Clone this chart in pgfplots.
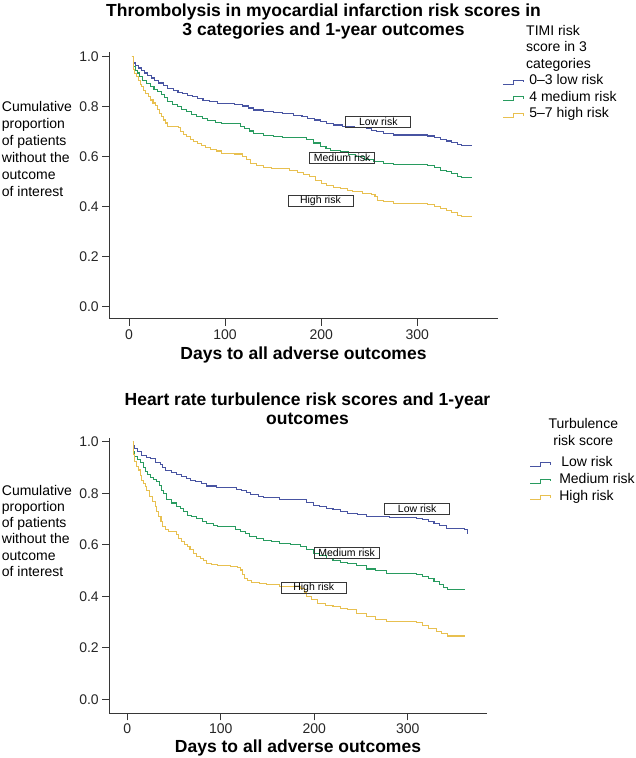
\documentclass[border=0pt]{standalone}
\usepackage{pgfplots}
\pgfplotsset{compat=1.18}
\usepackage{fontspec}
\setmainfont{Liberation Sans}
\definecolor{cblue}{RGB}{72,84,162}
\definecolor{cgreen}{RGB}{40,155,95}
\definecolor{cyellow}{RGB}{232,192,80}
\definecolor{axgray}{RGB}{55,55,55}
\tikzset{lbox/.style={draw=axgray, line width=0.8pt, minimum width=65pt, minimum height=11pt, inner sep=0pt, font=\fontsize{10.5}{11}\selectfont}}
\pgfplotsset{
  kmstyle/.style={
    scale only axis,
    clip=false,
    axis lines=left,
    axis line style={-, axgray, line width=0.9pt},
    tick style={axgray, line width=0.9pt},
    tick align=outside,
    major tick length=7pt,
    xtick={0,100,200,300},
    ytick={0,0.2,0.4,0.6,0.8,1.0},
    /pgf/number format/assume math mode=true,
    ticklabel style={font=\fontsize{14}{16}\selectfont, text=black!85},
    yticklabel style={/pgf/number format/.cd, fixed, fixed zerofill, precision=1},
    xticklabel style={/pgf/number format/.cd, fixed, precision=0},
    legend cell align=left,
    legend style={anchor=north west, draw=none, fill=none, inner sep=0pt, outer sep=0pt,
      row sep=0pt, font=\fontsize{14}{16}\selectfont,
      nodes={inner sep=0pt, text height=11pt, text depth=5.7pt}},
    legend image code/.code={\draw[##1, line width=1pt] (0pt,-2.5pt) -- (10pt,-2.5pt) -- (10pt,1.5pt) -- (20pt,1.5pt) -- (20pt,-0.5pt);},
  },
  km/.style={const plot, line width=1.05pt, mark=none},
}
\begin{document}
\begin{tikzpicture}
\path[use as bounding box] (0pt,0pt) rectangle (635pt,-758pt);
% ---------------- top panel ----------------
\begin{axis}[kmstyle, at={(109.3pt,-318.8pt)}, anchor=south west,
  width=389pt, height=266.8pt,
  xmin=-20.5, xmax=384.3, ymin=-0.048, ymax=1.019,
  legend style={at={(axis description cs:1.0113,0.920)}, column sep=5.7pt}]
\addplot[km, cblue] coordinates {
(3,1.0)(5,0.975)(7,0.965)(10,0.955)(13,0.945)(16,0.935)(19,0.925)(23,0.915)(27,0.905)(31,0.895)(36,0.885)(40,0.873)(46,0.866)(51,0.858)(56,0.852)(61,0.845)(66,0.84)(71,0.833)(77,0.826)(84,0.82)(92,0.814)(100,0.812)(110,0.81)(118,0.803)(124,0.795)(130,0.787)(140,0.782)(150,0.777)(160,0.772)(171,0.766)(180,0.76)(186,0.753)(193,0.747)(199,0.74)(206,0.734)(213,0.727)(222,0.72)(235,0.716)(247,0.712)(252,0.706)(258,0.70)(265,0.694)(275,0.687)(311,0.683)(318,0.677)(324,0.67)(330,0.663)(336,0.657)(342,0.648)(346,0.644)(357,0.644)};
\addlegendentry{0--3 low risk}
\addplot[km, cgreen] coordinates {
(3,1.0)(5,0.96)(7,0.945)(9,0.935)(11,0.92)(14,0.905)(18,0.893)(22,0.88)(26,0.87)(30,0.862)(34,0.85)(37,0.838)(40,0.82)(45,0.81)(50,0.80)(55,0.79)(60,0.78)(65,0.77)(70,0.76)(76,0.752)(82,0.745)(90,0.738)(96,0.734)(110,0.732)(116,0.72)(120,0.712)(125,0.703)(130,0.693)(140,0.686)(150,0.681)(160,0.676)(185,0.67)(192,0.655)(199,0.64)(205,0.632)(210,0.626)(220,0.62)(228,0.61)(236,0.60)(245,0.59)(254,0.58)(265,0.575)(275,0.571)(311,0.567)(318,0.557)(324,0.547)(330,0.54)(336,0.532)(342,0.522)(346,0.519)(357,0.519)};
\addlegendentry{4 medium risk}
\addplot[km, cyellow] coordinates {
(3,1.0)(5,0.95)(6,0.933)(8,0.92)(10,0.905)(12,0.89)(13,0.88)(15,0.865)(17,0.853)(20,0.84)(22,0.827)(25,0.815)(28,0.805)(30,0.79)(32,0.773)(34,0.76)(36,0.747)(38,0.735)(40,0.722)(52,0.718)(54,0.70)(57,0.69)(60,0.68)(64,0.67)(67,0.66)(71,0.653)(75,0.645)(80,0.637)(85,0.63)(91,0.623)(96,0.614)(110,0.611)(118,0.60)(122,0.59)(126,0.575)(133,0.565)(140,0.558)(148,0.552)(167,0.546)(175,0.537)(182,0.528)(188,0.52)(194,0.505)(200,0.492)(206,0.486)(213,0.479)(220,0.472)(227,0.466)(233,0.46)(243,0.455)(252,0.451)(256,0.44)(259,0.427)(265,0.42)(275,0.415)(311,0.411)(318,0.402)(324,0.393)(330,0.385)(336,0.376)(342,0.367)(346,0.363)(357,0.363)};
\addlegendentry{5--7 high risk}
\node[lbox] at (axis cs:259.4,0.739) {Low risk};
\node[lbox] at (axis cs:221.8,0.597) {Medium risk};
\node[lbox] at (axis cs:199.2,0.425) {High risk};
\end{axis}
% ---------------- bottom panel ----------------
\begin{axis}[kmstyle, at={(109.3pt,-713.3pt)}, anchor=south west,
  width=377.4pt, height=275pt,
  xmin=-19.3, xmax=384.4, ymin=-0.054, ymax=1.013,
  legend style={at={(axis description cs:1.1147,0.9367)}, column sep=8.3pt}]
\addplot[km, cblue] coordinates {
(6,1.0)(7,0.985)(8,0.974)(11,0.962)(15,0.948)(20,0.94)(25,0.933)(30,0.92)(35,0.91)(38,0.898)(41,0.887)(47,0.88)(53,0.874)(58,0.866)(63,0.858)(68,0.851)(73,0.844)(79,0.836)(85,0.828)(95,0.823)(110,0.822)(117,0.816)(122,0.81)(127,0.802)(132,0.795)(140,0.789)(146,0.783)(163,0.777)(185,0.774)(192,0.763)(199,0.754)(206,0.748)(213,0.741)(220,0.735)(228,0.73)(236,0.722)(246,0.717)(256,0.709)(280,0.707)(309,0.703)(316,0.697)(322,0.69)(328,0.682)(334,0.673)(341,0.664)(361,0.661)(364,0.64)};
\addlegendentry{\hspace{2pt}Low risk}
\addplot[km, cgreen] coordinates {
(6,1.0)(7,0.96)(8,0.942)(11,0.93)(14,0.92)(17,0.9)(19,0.884)(22,0.872)(25,0.862)(28,0.855)(31,0.845)(34,0.83)(37,0.812)(39,0.8)(42,0.774)(47,0.762)(53,0.748)(57,0.74)(60,0.728)(64,0.715)(69,0.708)(74,0.703)(80,0.692)(85,0.683)(92,0.676)(96,0.672)(110,0.67)(116,0.66)(121,0.651)(126,0.642)(131,0.631)(138,0.625)(146,0.618)(154,0.612)(163,0.606)(175,0.6)(185,0.592)(192,0.58)(199,0.567)(206,0.557)(213,0.547)(220,0.54)(228,0.532)(235,0.527)(245,0.518)(256,0.506)(265,0.5)(277,0.489)(309,0.485)(316,0.478)(322,0.47)(328,0.456)(334,0.444)(338,0.435)(342,0.427)(361,0.427)};
\addlegendentry{Medium risk}
\addplot[km, cyellow] coordinates {
(6,1.0)(7,0.95)(8,0.922)(10,0.905)(12,0.89)(14,0.87)(15,0.851)(17,0.838)(19,0.825)(21,0.81)(24,0.786)(27,0.768)(30,0.748)(31,0.73)(33,0.709)(36,0.69)(38,0.67)(41,0.66)(44,0.651)(53,0.638)(55,0.625)(58,0.612)(61,0.6)(64,0.592)(67,0.58)(71,0.567)(74,0.556)(78,0.547)(81,0.538)(85,0.528)(90,0.522)(96,0.519)(110,0.517)(118,0.51)(121,0.502)(123,0.485)(125,0.47)(129,0.462)(133,0.455)(141,0.45)(149,0.444)(163,0.437)(185,0.431)(189,0.415)(192,0.398)(197,0.386)(203,0.373)(212,0.366)(220,0.36)(228,0.353)(235,0.347)(245,0.334)(256,0.321)(265,0.31)(277,0.301)(309,0.297)(316,0.287)(322,0.276)(331,0.262)(336,0.255)(342,0.246)(361,0.246)};
\addlegendentry{High risk}
\node[lbox] at (axis cs:310.1,0.739) {Low risk};
\node[lbox] at (axis cs:234.6,0.568) {Medium risk};
\node[lbox] at (axis cs:199.4,0.434) {High risk};
\end{axis}
% ---------------- texts ----------------
\begin{scope}[every node/.style={inner sep=0pt, font=\fontsize{17.5}{19.5}\selectfont\bfseries}]
\node[anchor=base] at (323.5pt,-16pt) {Thrombolysis in myocardial infarction risk scores in};
\node[anchor=base] at (323.5pt,-35.5pt) {3 categories and 1-year outcomes};
\node[anchor=base] at (307.5pt,-405pt) {Heart rate turbulence risk scores and 1-year};
\node[anchor=base] at (307.5pt,-424pt) {outcomes};
\node[anchor=base] at (303.5pt,-359.3pt) {Days to all adverse outcomes};
\node[anchor=base] at (298pt,-752pt) {Days to all adverse outcomes};
\end{scope}
\begin{scope}[every node/.style={inner sep=0pt, anchor=base west, font=\fontsize{14}{16}\selectfont}]
\node at (1.7pt,-111.7pt) {Cumulative};
\node at (1.7pt,-128.6pt) {proportion};
\node at (1.7pt,-145.5pt) {of patients};
\node at (1.7pt,-162.4pt) {without the};
\node at (1.7pt,-179.3pt) {outcome};
\node at (1.7pt,-196.2pt) {of interest};
\node at (1.7pt,-495pt) {Cumulative};
\node at (1.7pt,-511.3pt) {proportion};
\node at (1.7pt,-527.6pt) {of patients};
\node at (1.7pt,-543.9pt) {without the};
\node at (1.7pt,-560.2pt) {outcome};
\node at (1.7pt,-576.5pt) {of interest};
\node at (526pt,-35pt) {TIMI risk};
\node at (526pt,-51.5pt) {score in 3};
\node at (526pt,-68pt) {categories};
\node[anchor=base] at (583.3pt,-428.5pt) {Turbulence};
\node[anchor=base] at (583.3pt,-445pt) {risk score};
\end{scope}
\end{tikzpicture}
\end{document}
